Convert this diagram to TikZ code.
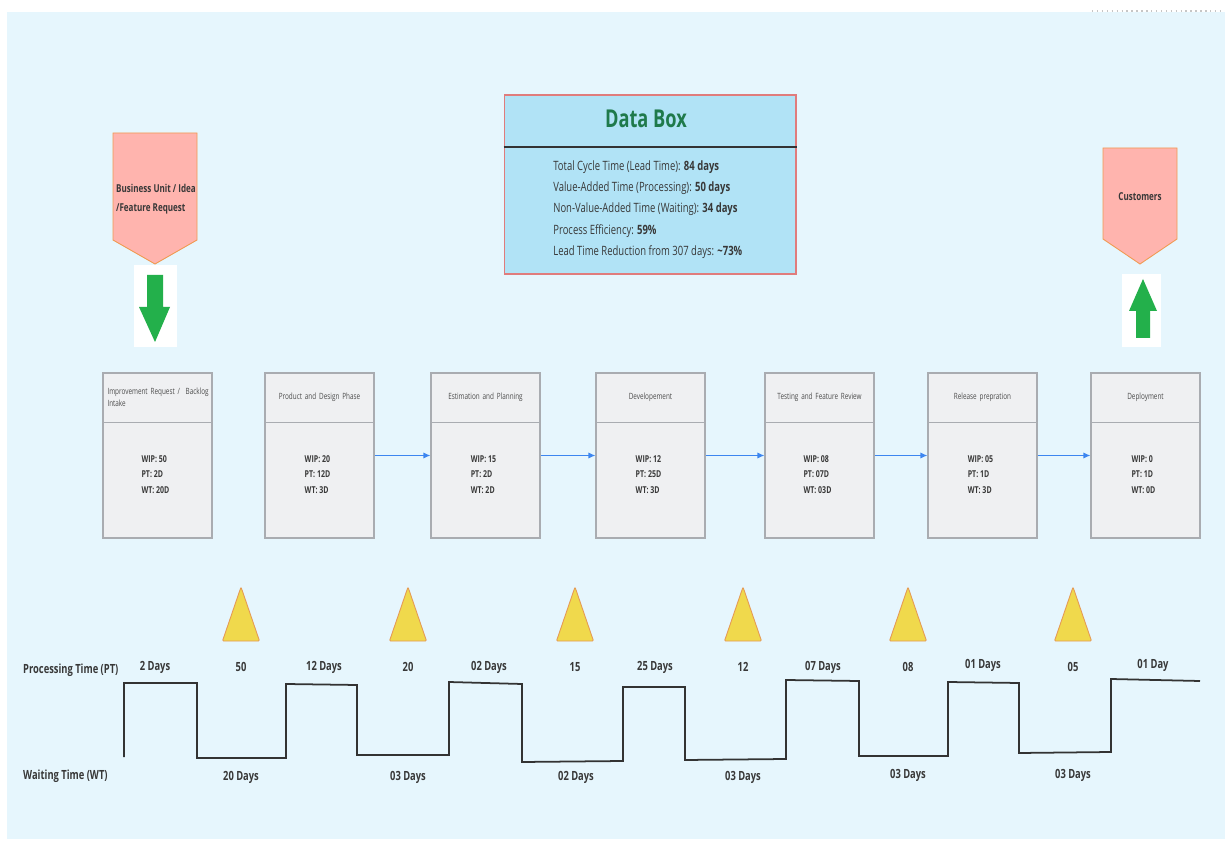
\documentclass[tikz,border=0pt]{standalone}
\usepackage{fontspec}
\setmainfont{Open Sans}[FakeStretch=0.74]
\usetikzlibrary{positioning,arrows.meta}

\definecolor{canvas}{HTML}{E6F6FD}
\definecolor{ink}{HTML}{383838}
\definecolor{boxfill}{HTML}{EFF0F2}
\definecolor{boxline}{HTML}{A9ACB1}
\definecolor{flowblue}{HTML}{3D86F0}
\definecolor{dbfill}{HTML}{B1E3F6}
\definecolor{dbedge}{HTML}{E07C7C}
\definecolor{dbgreen}{HTML}{1F7A4B}
\definecolor{reqfill}{HTML}{FFB4AE}
\definecolor{reqedge}{HTML}{F09A52}
\definecolor{gogreen}{HTML}{23B04B}
\definecolor{invyellow}{HTML}{F0D94C}
\definecolor{invedge}{HTML}{E59A55}

\tikzset{
  procbox/.style={draw=boxline, fill=boxfill, line width=0.6pt,
    minimum width=2.18cm, minimum height=3.3cm, inner sep=0pt},
  proctitle/.style={font=\fontsize{4.9}{6.6}\selectfont, text=ink!90, text width=2cm},
  procdata/.style={font=\bfseries\fontsize{5.4}{8.8}\selectfont, text=ink, align=left},
  flow/.style={draw=flowblue, line width=0.9pt, -{Latex[length=4pt,width=3.6pt]}},
  lbl/.style={font=\bfseries\fontsize{7.2}{9}\selectfont, text=ink},
  inv/.style={fill=invyellow, draw=invedge, line width=0.5pt, rounded corners=0.6pt},
  wave/.style={draw=black!80, line width=1pt},
  req/.style={fill=reqfill, draw=reqedge, line width=0.5pt},
  reqtext/.style={font=\bfseries\fontsize{6.2}{11}\selectfont, text=ink, align=left},
  bigarrow/.style={fill=gogreen},
  dbrows/.style={font=\fontsize{7.3}{12.1}\selectfont, text=ink, align=left}
}

\begin{document}
\begin{tikzpicture}[x=0.02cm, y=-0.02cm]
  \useasboundingbox (0,0) rectangle (1225,841);
  \fill[white] (0,0) rectangle (1225,841);
  \fill[canvas] (7,12) rectangle (1225,839);
  \draw[gray!45, dotted, line width=0.8pt] (1092,11) -- (1225,11);

  % data box
  \node (databox) [draw=dbedge, fill=dbfill, line width=0.6pt, minimum width=5.84cm,
    minimum height=3.58cm] at (650,184.5) {};
  \draw[black!80, line width=1.2pt] (databox.west |- 0,147) -- (databox.east |- 0,147);
  \node (dbtitle) [font=\bfseries\fontsize{14}{17}\selectfont, text=dbgreen] at (646,119) {Data Box};
  \node (dbtext) [dbrows, anchor=west, inner sep=0pt] at (553,209.5)
    {Total Cycle Time (Lead Time): \textbf{84 days}\\
     Value-Added Time (Processing): \textbf{50 days}\\
     Non-Value-Added Time (Waiting): \textbf{34 days}\\
     Process Efficiency: \textbf{59\%}\\
     Lead Time Reduction from 307 days: \textbf{\textasciitilde73\%}};

  % supplier / customer
  \draw[req] (113,133) -- (197,133) -- (197,240) -- (155,264) -- (113,240) -- cycle;
  \node (bu) [reqtext] at (156,199) {Business Unit / Idea\\/Feature Request};
  \draw[req] (1103,148) -- (1177,148) -- (1177,239) -- (1140,264) -- (1103,239) -- cycle;
  \node (cust) [reqtext] at (1140,197) {Customers};

  \fill[white] (134,265) rectangle (177,347);
  \fill[bigarrow] (147,275) -- (163,275) -- (163,307) -- (170,307) -- (155,342)
    -- (139,307) -- (147,307) -- cycle;
  \fill[white] (1122,274) rectangle (1161,347);
  \fill[bigarrow] (1143,279) -- (1157,311) -- (1150,311) -- (1150,338) -- (1136,338)
    -- (1136,311) -- (1129,311) -- cycle;

  % process steps
  \foreach \i/\x/\al/\ttl/\w/\p/\t in {
      1/157.5/left/{\mbox{Improvement Request /\ \ Backlog}\\Intake}/50/2D/20D,
      2/319.5/center/{Product and Design Phase}/20/12D/3D,
      3/485.5/center/{Estimation and Planning}/15/2D/2D,
      4/650.5/center/{Developement}/12/25D/3D,
      5/819.5/center/{Testing and Feature Review}/08/07D/03D,
      6/982.5/center/{Release prepration}/05/1D/3D,
      7/1145.5/center/{Deployment}/0/1D/0D} {
    \node (p\i) [procbox] at (\x,455.5) {};
    \draw[boxline, line width=0.6pt] ([yshift=-1cm]p\i.north west) -- ([yshift=-1cm]p\i.north east);
    \node (t\i) [proctitle, align=\al] at (\x,397.5) {\ttl};
    \node (d\i) [procdata] at (\x-2,474.5) {WIP: \w\\PT: \p\\WT: \t};
  }
  \foreach \a/\b in {p2/p3, p3/p4, p4/p5, p5/p6, p6/p7}
    \draw[flow] (\a.east) -- (\b.west);

  % inventory
  \foreach \k/\x/\n in {1/241/50, 2/408/20, 3/575/15, 4/743/12, 5/908/08, 6/1073/05} {
    \draw[inv] (\x,587) -- (\x+18.5,641) -- (\x-18.5,641) -- cycle;
    \node (n\k) [lbl] at (\x,667) {\n};
  }

  % timeline
  \node (ptlabel) [lbl, anchor=west] at (17,670) {Processing Time (PT)};
  \node (wtlabel) [lbl, anchor=west] at (17,776) {Waiting Time (WT)};
  \foreach \k/\x/\y/\d in {1/155/667/2 Days, 2/324/667/12 Days, 3/489/667/02 Days,
      4/655/667/25 Days, 5/823/667/07 Days, 6/983/665/01 Days, 7/1153/665/01 Day}
    \node (pt\k) [lbl] at (\x,\y) {\d};
  \foreach \k/\x/\y/\d in {1/241/777/20 Days, 2/408/777/03 Days, 3/576/777/02 Days,
      4/743/777/03 Days, 5/908/775/03 Days, 6/1073/775/03 Days}
    \node (wt\k) [lbl] at (\x,\y) {\d};

  \draw[wave] (124,757) -- (124,683) -- (197,683) -- (197,758) -- (286,758)
    -- (286,684) -- (357,685) -- (357,755) -- (449,755) -- (449,682) -- (522,684)
    -- (522,762) -- (623,761) -- (623,687) -- (685,687) -- (685,760) -- (786,759)
    -- (786,680) -- (859,681) -- (859,756) -- (948,756) -- (948,682) -- (1019,683)
    -- (1019,753) -- (1111,752) -- (1111,679) -- (1200,681);
\end{tikzpicture}
\end{document}
